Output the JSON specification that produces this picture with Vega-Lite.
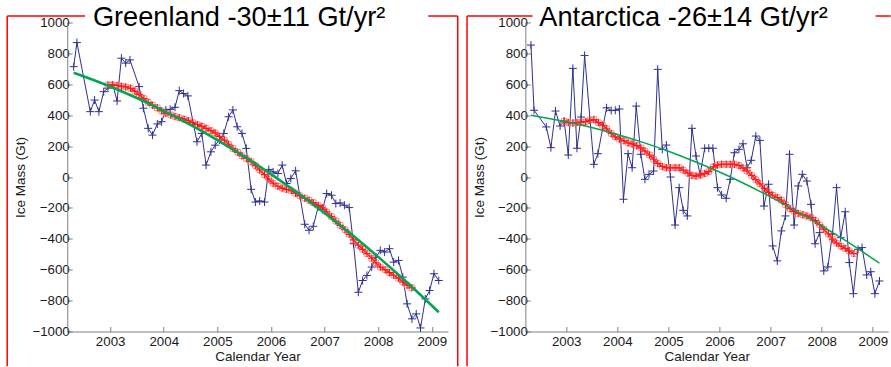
{
  "$schema": "https://vega.github.io/schema/vega-lite/v6.json",
  "background": "white",
  "padding": {"left": 6.25, "top": 3.5, "right": 0, "bottom": 0},
  "autosize": {"type": "pad"},
  "bounds": "flush",
  "spacing": 77.1,
  "config": {
    "view": {"stroke": null},
    "font": "Liberation Sans",
    "axis": {
      "grid": false,
      "domainColor": "#808080",
      "tickColor": "#808080",
      "labelColor": "#1a1a1a",
      "titleColor": "#1a1a1a",
      "labelFont": "Liberation Sans",
      "titleFont": "Liberation Sans",
      "labelFontSize": 13.3,
      "titleFontSize": 13.5,
      "titleFontWeight": "normal",
      "tickSize": -5
    },
    "axisY": {"labelOverlap": false, "labelFlush": false}
  },
  "datasets": {
    "gb": [
      {"year": 2002.32, "mass": 714}, {"year": 2002.38, "mass": 870}, {"year": 2002.63, "mass": 423}, {"year": 2002.71, "mass": 498},
      {"year": 2002.79, "mass": 423}, {"year": 2002.88, "mass": 552}, {"year": 2002.96, "mass": 575}, {"year": 2003.05, "mass": 596},
      {"year": 2003.13, "mass": 492}, {"year": 2003.21, "mass": 769}, {"year": 2003.29, "mass": 737}, {"year": 2003.37, "mass": 758},
      {"year": 2003.54, "mass": 585}, {"year": 2003.62, "mass": 445}, {"year": 2003.71, "mass": 315}, {"year": 2003.79, "mass": 271},
      {"year": 2003.88, "mass": 343}, {"year": 2003.96, "mass": 358}, {"year": 2004.04, "mass": 434}, {"year": 2004.12, "mass": 438},
      {"year": 2004.21, "mass": 451}, {"year": 2004.29, "mass": 559}, {"year": 2004.37, "mass": 540}, {"year": 2004.45, "mass": 525},
      {"year": 2004.62, "mass": 228}, {"year": 2004.71, "mass": 282}, {"year": 2004.79, "mass": 77}, {"year": 2004.88, "mass": 163},
      {"year": 2004.96, "mass": 206}, {"year": 2005.04, "mass": 239}, {"year": 2005.12, "mass": 282}, {"year": 2005.21, "mass": 390},
      {"year": 2005.29, "mass": 434}, {"year": 2005.37, "mass": 325}, {"year": 2005.46, "mass": 282}, {"year": 2005.54, "mass": 185},
      {"year": 2005.63, "mass": -80}, {"year": 2005.71, "mass": -162}, {"year": 2005.79, "mass": -155}, {"year": 2005.88, "mass": -162},
      {"year": 2005.96, "mass": 49}, {"year": 2006.04, "mass": 33}, {"year": 2006.13, "mass": 23}, {"year": 2006.21, "mass": 77},
      {"year": 2006.29, "mass": -42}, {"year": 2006.37, "mass": -10}, {"year": 2006.46, "mass": 40}, {"year": 2006.63, "mass": -306},
      {"year": 2006.71, "mass": -345}, {"year": 2006.79, "mass": -319}, {"year": 2006.88, "mass": -194}, {"year": 2006.96, "mass": -211},
      {"year": 2007.04, "mass": -107}, {"year": 2007.13, "mass": -118}, {"year": 2007.21, "mass": -172}, {"year": 2007.29, "mass": -168},
      {"year": 2007.37, "mass": -183}, {"year": 2007.46, "mass": -198}, {"year": 2007.54, "mass": -432}, {"year": 2007.63, "mass": -746},
      {"year": 2007.71, "mass": -670}, {"year": 2007.79, "mass": -637}, {"year": 2007.88, "mass": -583}, {"year": 2007.96, "mass": -519},
      {"year": 2008.04, "mass": -475}, {"year": 2008.12, "mass": -486}, {"year": 2008.21, "mass": -464}, {"year": 2008.29, "mass": -551},
      {"year": 2008.38, "mass": -540}, {"year": 2008.46, "mass": -648}, {"year": 2008.54, "mass": -821}, {"year": 2008.63, "mass": -918},
      {"year": 2008.71, "mass": -886}, {"year": 2008.79, "mass": -977}, {"year": 2008.88, "mass": -789}, {"year": 2008.96, "mass": -735},
      {"year": 2009.04, "mass": -626}, {"year": 2009.13, "mass": -670}
    ],
    "gr": [
      {"year": 2002.96, "mass": 596}, {"year": 2003.04, "mass": 596}, {"year": 2003.13, "mass": 593}, {"year": 2003.21, "mass": 588},
      {"year": 2003.29, "mass": 583}, {"year": 2003.38, "mass": 574}, {"year": 2003.46, "mass": 556}, {"year": 2003.54, "mass": 533},
      {"year": 2003.63, "mass": 508}, {"year": 2003.71, "mass": 483}, {"year": 2003.79, "mass": 465}, {"year": 2003.88, "mass": 448},
      {"year": 2003.96, "mass": 428}, {"year": 2004.04, "mass": 412}, {"year": 2004.13, "mass": 402}, {"year": 2004.21, "mass": 392},
      {"year": 2004.29, "mass": 383}, {"year": 2004.38, "mass": 374}, {"year": 2004.46, "mass": 364}, {"year": 2004.54, "mass": 352},
      {"year": 2004.63, "mass": 339}, {"year": 2004.71, "mass": 328}, {"year": 2004.79, "mass": 315}, {"year": 2004.88, "mass": 300},
      {"year": 2004.96, "mass": 285}, {"year": 2005.04, "mass": 262}, {"year": 2005.13, "mass": 239}, {"year": 2005.21, "mass": 212},
      {"year": 2005.29, "mass": 185}, {"year": 2005.38, "mass": 160}, {"year": 2005.46, "mass": 137}, {"year": 2005.54, "mass": 120},
      {"year": 2005.63, "mass": 100}, {"year": 2005.71, "mass": 74}, {"year": 2005.79, "mass": 46}, {"year": 2005.88, "mass": 15},
      {"year": 2005.96, "mass": -13}, {"year": 2006.04, "mass": -40}, {"year": 2006.13, "mass": -60}, {"year": 2006.21, "mass": -72},
      {"year": 2006.29, "mass": -80}, {"year": 2006.38, "mass": -88}, {"year": 2006.46, "mass": -105}, {"year": 2006.54, "mass": -122},
      {"year": 2006.63, "mass": -137}, {"year": 2006.71, "mass": -150}, {"year": 2006.79, "mass": -166}, {"year": 2006.88, "mass": -184},
      {"year": 2006.96, "mass": -200}, {"year": 2007.04, "mass": -226}, {"year": 2007.13, "mass": -256}, {"year": 2007.21, "mass": -285},
      {"year": 2007.29, "mass": -313}, {"year": 2007.38, "mass": -341}, {"year": 2007.46, "mass": -371}, {"year": 2007.54, "mass": -407},
      {"year": 2007.63, "mass": -441}, {"year": 2007.71, "mass": -468}, {"year": 2007.79, "mass": -496}, {"year": 2007.88, "mass": -526},
      {"year": 2007.96, "mass": -556}, {"year": 2008.04, "mass": -583}, {"year": 2008.13, "mass": -601}, {"year": 2008.21, "mass": -619},
      {"year": 2008.29, "mass": -636}, {"year": 2008.38, "mass": -655}, {"year": 2008.46, "mass": -680}, {"year": 2008.54, "mass": -700},
      {"year": 2008.63, "mass": -717}
    ],
    "gg": [
      {"year": 2002.32, "mass": 675}, {"year": 2003.0, "mass": 586}, {"year": 2003.5, "mass": 511}, {"year": 2004.0, "mass": 428},
      {"year": 2004.5, "mass": 337}, {"year": 2005.0, "mass": 239}, {"year": 2005.5, "mass": 133}, {"year": 2006.0, "mass": 19},
      {"year": 2006.5, "mass": -104}, {"year": 2007.0, "mass": -233}, {"year": 2007.5, "mass": -371}, {"year": 2008.0, "mass": -517},
      {"year": 2008.5, "mass": -670}, {"year": 2009.13, "mass": -875}
    ],
    "ab": [
      {"year": 2002.31, "mass": 854}, {"year": 2002.37, "mass": 432}, {"year": 2002.61, "mass": 324}, {"year": 2002.70, "mass": 190},
      {"year": 2002.79, "mass": 427}, {"year": 2002.88, "mass": 330}, {"year": 2002.96, "mass": 362}, {"year": 2003.04, "mass": 142},
      {"year": 2003.13, "mass": 703}, {"year": 2003.21, "mass": 186}, {"year": 2003.29, "mass": 388}, {"year": 2003.36, "mass": 787},
      {"year": 2003.54, "mass": 82}, {"year": 2003.62, "mass": 151}, {"year": 2003.79, "mass": 448}, {"year": 2003.88, "mass": 430},
      {"year": 2003.96, "mass": 432}, {"year": 2004.04, "mass": 440}, {"year": 2004.12, "mass": -144}, {"year": 2004.21, "mass": 151},
      {"year": 2004.29, "mass": 60}, {"year": 2004.37, "mass": 459}, {"year": 2004.46, "mass": 147}, {"year": 2004.54, "mass": -15},
      {"year": 2004.62, "mass": 17}, {"year": 2004.71, "mass": 39}, {"year": 2004.79, "mass": 697}, {"year": 2004.88, "mass": 179},
      {"year": 2004.96, "mass": 207}, {"year": 2005.04, "mass": 0}, {"year": 2005.13, "mass": -311}, {"year": 2005.21, "mass": -69},
      {"year": 2005.29, "mass": -216}, {"year": 2005.37, "mass": -252}, {"year": 2005.46, "mass": 315}, {"year": 2005.54, "mass": 136},
      {"year": 2005.62, "mass": 17}, {"year": 2005.71, "mass": 186}, {"year": 2005.79, "mass": 186}, {"year": 2005.87, "mass": 186},
      {"year": 2005.96, "mass": -69}, {"year": 2006.04, "mass": -116}, {"year": 2006.13, "mass": -138}, {"year": 2006.21, "mass": -15},
      {"year": 2006.29, "mass": 157}, {"year": 2006.38, "mass": 179}, {"year": 2006.46, "mass": 215}, {"year": 2006.54, "mass": 60},
      {"year": 2006.62, "mass": 108}, {"year": 2006.71, "mass": 265}, {"year": 2006.79, "mass": 237}, {"year": 2006.87, "mass": -188},
      {"year": 2006.96, "mass": -47}, {"year": 2007.04, "mass": -446}, {"year": 2007.13, "mass": -543}, {"year": 2007.21, "mass": -349},
      {"year": 2007.29, "mass": -252}, {"year": 2007.37, "mass": 147}, {"year": 2007.46, "mass": -311}, {"year": 2007.54, "mass": -58},
      {"year": 2007.62, "mass": 17}, {"year": 2007.71, "mass": -26}, {"year": 2007.79, "mass": -177}, {"year": 2007.87, "mass": -432},
      {"year": 2007.96, "mass": -360}, {"year": 2008.04, "mass": -608}, {"year": 2008.12, "mass": -582}, {"year": 2008.21, "mass": -371},
      {"year": 2008.29, "mass": -69}, {"year": 2008.37, "mass": -393}, {"year": 2008.46, "mass": -225}, {"year": 2008.54, "mass": -554},
      {"year": 2008.62, "mass": -755}, {"year": 2008.71, "mass": -468}, {"year": 2008.79, "mass": -457}, {"year": 2008.88, "mass": -634},
      {"year": 2008.96, "mass": -613}, {"year": 2009.04, "mass": -755}, {"year": 2009.13, "mass": -673}
    ],
    "ar": [
      {"year": 2002.96, "mass": 360}, {"year": 2003.04, "mass": 352}, {"year": 2003.13, "mass": 350}, {"year": 2003.21, "mass": 352},
      {"year": 2003.29, "mass": 355}, {"year": 2003.38, "mass": 358}, {"year": 2003.46, "mass": 368}, {"year": 2003.54, "mass": 372},
      {"year": 2003.63, "mass": 352}, {"year": 2003.71, "mass": 335}, {"year": 2003.79, "mass": 312}, {"year": 2003.88, "mass": 282},
      {"year": 2003.96, "mass": 260}, {"year": 2004.04, "mass": 246}, {"year": 2004.13, "mass": 234}, {"year": 2004.21, "mass": 220},
      {"year": 2004.29, "mass": 214}, {"year": 2004.38, "mass": 203}, {"year": 2004.46, "mass": 188}, {"year": 2004.54, "mass": 168},
      {"year": 2004.63, "mass": 142}, {"year": 2004.71, "mass": 115}, {"year": 2004.79, "mass": 88}, {"year": 2004.88, "mass": 68},
      {"year": 2004.96, "mass": 60}, {"year": 2005.04, "mass": 60}, {"year": 2005.13, "mass": 60}, {"year": 2005.21, "mass": 60},
      {"year": 2005.29, "mass": 45}, {"year": 2005.38, "mass": 25}, {"year": 2005.46, "mass": 10}, {"year": 2005.54, "mass": 6},
      {"year": 2005.63, "mass": 13}, {"year": 2005.71, "mass": 22}, {"year": 2005.79, "mass": 35}, {"year": 2005.88, "mass": 66},
      {"year": 2005.96, "mass": 78}, {"year": 2006.04, "mass": 82}, {"year": 2006.13, "mass": 82}, {"year": 2006.21, "mass": 82},
      {"year": 2006.29, "mass": 82}, {"year": 2006.38, "mass": 75}, {"year": 2006.46, "mass": 58}, {"year": 2006.54, "mass": 39},
      {"year": 2006.63, "mass": 10}, {"year": 2006.71, "mass": -17}, {"year": 2006.79, "mass": -44}, {"year": 2006.88, "mass": -74},
      {"year": 2006.96, "mass": -100}, {"year": 2007.04, "mass": -118}, {"year": 2007.13, "mass": -133}, {"year": 2007.21, "mass": -150},
      {"year": 2007.29, "mass": -178}, {"year": 2007.38, "mass": -205}, {"year": 2007.46, "mass": -222}, {"year": 2007.54, "mass": -236},
      {"year": 2007.63, "mass": -245}, {"year": 2007.71, "mass": -252}, {"year": 2007.79, "mass": -262}, {"year": 2007.88, "mass": -282},
      {"year": 2007.96, "mass": -310}, {"year": 2008.04, "mass": -338}, {"year": 2008.13, "mass": -368}, {"year": 2008.21, "mass": -402},
      {"year": 2008.29, "mass": -428}, {"year": 2008.38, "mass": -448}, {"year": 2008.46, "mass": -462}, {"year": 2008.54, "mass": -478},
      {"year": 2008.63, "mass": -496}
    ],
    "ag": [
      {"year": 2002.31, "mass": 400}, {"year": 2003.0, "mass": 358}, {"year": 2003.5, "mass": 320}, {"year": 2004.0, "mass": 275},
      {"year": 2004.5, "mass": 224}, {"year": 2005.0, "mass": 167}, {"year": 2005.5, "mass": 102}, {"year": 2006.0, "mass": 32},
      {"year": 2006.5, "mass": -45}, {"year": 2007.0, "mass": -129}, {"year": 2007.5, "mass": -219}, {"year": 2008.0, "mass": -316},
      {"year": 2008.5, "mass": -419}, {"year": 2009.13, "mass": -558}
    ]
  },
  "hconcat": [
    {
      "width": 380.6,
      "height": 309,
      "title": {"text": "Greenland -30±11 Gt/yr²", "font": "Liberation Sans", "fontSize": 27.2, "fontWeight": "normal", "color": "#000000", "anchor": "middle", "frame": "group", "dx": -18.4, "offset": -37.7, "baseline": "alphabetic"},
      "layer": [
        {"data": {"name": "gb"}, "mark": {"type": "line", "color": "#2e3192", "strokeWidth": 1},
         "encoding": {
           "x": {"field": "year", "type": "quantitative", "scale": {"domain": [2002.2, 2009.3], "nice": false, "zero": false},
                 "axis": {"title": "Calendar Year", "values": [2003, 2004, 2005, 2006, 2007, 2008, 2009], "format": "d", "labelPadding": 8, "titlePadding": 2, "labelOverlap": false}},
           "y": {"field": "mass", "type": "quantitative", "scale": {"domain": [-1000, 1000], "nice": false, "zero": false},
                 "axis": {"title": "Ice Mass (Gt)", "tickCount": 10, "format": "d", "labelPadding": 3, "titlePadding": 4, "labelOverlap": false, "labelFlush": false}}
         }},
        {"data": {"name": "gb"}, "mark": {"type": "point", "shape": "M-1,0L1,0M0,-1L0,1", "filled": false, "color": "#2e3192", "strokeWidth": 1, "size": 64, "opacity": 1},
         "encoding": {"x": {"field": "year", "type": "quantitative"}, "y": {"field": "mass", "type": "quantitative"}}},
        {"data": {"name": "gr"}, "mark": {"type": "point", "shape": "square", "filled": false, "color": "#ff7070", "strokeWidth": 1, "size": 30, "opacity": 0.8},
         "encoding": {"x": {"field": "year", "type": "quantitative"}, "y": {"field": "mass", "type": "quantitative"}}},
        {"data": {"name": "gr"}, "mark": {"type": "line", "color": "#ff1a1a", "strokeWidth": 1.3},
         "encoding": {"x": {"field": "year", "type": "quantitative"}, "y": {"field": "mass", "type": "quantitative"}}},
        {"data": {"name": "gr"}, "mark": {"type": "point", "shape": "M-1,0L1,0M0,-1L0,1", "filled": false, "color": "#ff1a1a", "strokeWidth": 1.2, "size": 56, "opacity": 1},
         "encoding": {"x": {"field": "year", "type": "quantitative"}, "y": {"field": "mass", "type": "quantitative"}}},
        {"data": {"name": "gg"}, "mark": {"type": "line", "color": "#00a651", "strokeWidth": 2.6, "interpolate": "monotone"},
         "encoding": {"x": {"field": "year", "type": "quantitative"}, "y": {"field": "mass", "type": "quantitative"}}},
        {"data": {"values": [{}]}, "mark": {"type": "rule", "color": "#ff0000", "strokeWidth": 1.5, "clip": false},
         "encoding": {"x": {"datum": 2001.08, "type": "quantitative"}, "y": {"datum": 1042, "type": "quantitative"}, "y2": {"datum": -1225}}},
        {"data": {"values": [{}]}, "mark": {"type": "rule", "color": "#ff0000", "strokeWidth": 1.5, "clip": false},
         "encoding": {"x": {"datum": 2009.484, "type": "quantitative"}, "y": {"datum": 1042, "type": "quantitative"}, "y2": {"datum": -1225}}},
        {"data": {"values": [{}]}, "mark": {"type": "rule", "color": "#ff0000", "strokeWidth": 1.5, "clip": false},
         "encoding": {"x": {"datum": 2001.08, "type": "quantitative"}, "x2": {"datum": 2002.534}, "y": {"datum": 1042, "type": "quantitative"}}},
        {"data": {"values": [{}]}, "mark": {"type": "rule", "color": "#ff0000", "strokeWidth": 1.5, "clip": false},
         "encoding": {"x": {"datum": 2008.933, "type": "quantitative"}, "x2": {"datum": 2009.484}, "y": {"datum": 1042, "type": "quantitative"}}}
      ]
    },
    {
      "width": 362.8,
      "height": 309,
      "title": {"text": "Antarctica -26±14 Gt/yr²", "font": "Liberation Sans", "fontSize": 27.2, "fontWeight": "normal", "color": "#000000", "anchor": "middle", "frame": "group", "dx": -23.2, "offset": -37.7, "baseline": "alphabetic"},
      "layer": [
        {"data": {"name": "ab"}, "mark": {"type": "line", "color": "#2e3192", "strokeWidth": 1},
         "encoding": {
           "x": {"field": "year", "type": "quantitative", "scale": {"domain": [2002.2, 2009.3], "nice": false, "zero": false},
                 "axis": {"title": "Calendar Year", "values": [2003, 2004, 2005, 2006, 2007, 2008, 2009], "format": "d", "labelPadding": 8, "titlePadding": 2, "labelOverlap": false}},
           "y": {"field": "mass", "type": "quantitative", "scale": {"domain": [-1000, 1000], "nice": false, "zero": false},
                 "axis": {"title": "Ice Mass (Gt)", "tickCount": 10, "format": "d", "labelPadding": 3, "titlePadding": 4, "labelOverlap": false, "labelFlush": false}}
         }},
        {"data": {"name": "ab"}, "mark": {"type": "point", "shape": "M-1,0L1,0M0,-1L0,1", "filled": false, "color": "#2e3192", "strokeWidth": 1, "size": 64, "opacity": 1},
         "encoding": {"x": {"field": "year", "type": "quantitative"}, "y": {"field": "mass", "type": "quantitative"}}},
        {"data": {"name": "ar"}, "mark": {"type": "point", "shape": "square", "filled": false, "color": "#ff7070", "strokeWidth": 1, "size": 30, "opacity": 0.8},
         "encoding": {"x": {"field": "year", "type": "quantitative"}, "y": {"field": "mass", "type": "quantitative"}}},
        {"data": {"name": "ar"}, "mark": {"type": "line", "color": "#ff1a1a", "strokeWidth": 1.3},
         "encoding": {"x": {"field": "year", "type": "quantitative"}, "y": {"field": "mass", "type": "quantitative"}}},
        {"data": {"name": "ar"}, "mark": {"type": "point", "shape": "M-1,0L1,0M0,-1L0,1", "filled": false, "color": "#ff1a1a", "strokeWidth": 1.2, "size": 56, "opacity": 1},
         "encoding": {"x": {"field": "year", "type": "quantitative"}, "y": {"field": "mass", "type": "quantitative"}}},
        {"data": {"name": "ag"}, "mark": {"type": "line", "color": "#00a651", "strokeWidth": 1.5, "interpolate": "monotone"},
         "encoding": {"x": {"field": "year", "type": "quantitative"}, "y": {"field": "mass", "type": "quantitative"}}},
        {"data": {"values": [{}]}, "mark": {"type": "rule", "color": "#ff0000", "strokeWidth": 1.5, "clip": false},
         "encoding": {"x": {"datum": 2001.059, "type": "quantitative"}, "y": {"datum": 1042, "type": "quantitative"}, "y2": {"datum": -1225}}},
        {"data": {"values": [{}]}, "mark": {"type": "rule", "color": "#ff0000", "strokeWidth": 1.5, "clip": false},
         "encoding": {"x": {"datum": 2001.059, "type": "quantitative"}, "x2": {"datum": 2002.341}, "y": {"datum": 1042, "type": "quantitative"}}},
        {"data": {"values": [{}]}, "mark": {"type": "rule", "color": "#ff0000", "strokeWidth": 1.5, "clip": false},
         "encoding": {"x": {"datum": 2009.053, "type": "quantitative"}, "x2": {"datum": 2009.35}, "y": {"datum": 1042, "type": "quantitative"}}}
      ]
    }
  ]
}
